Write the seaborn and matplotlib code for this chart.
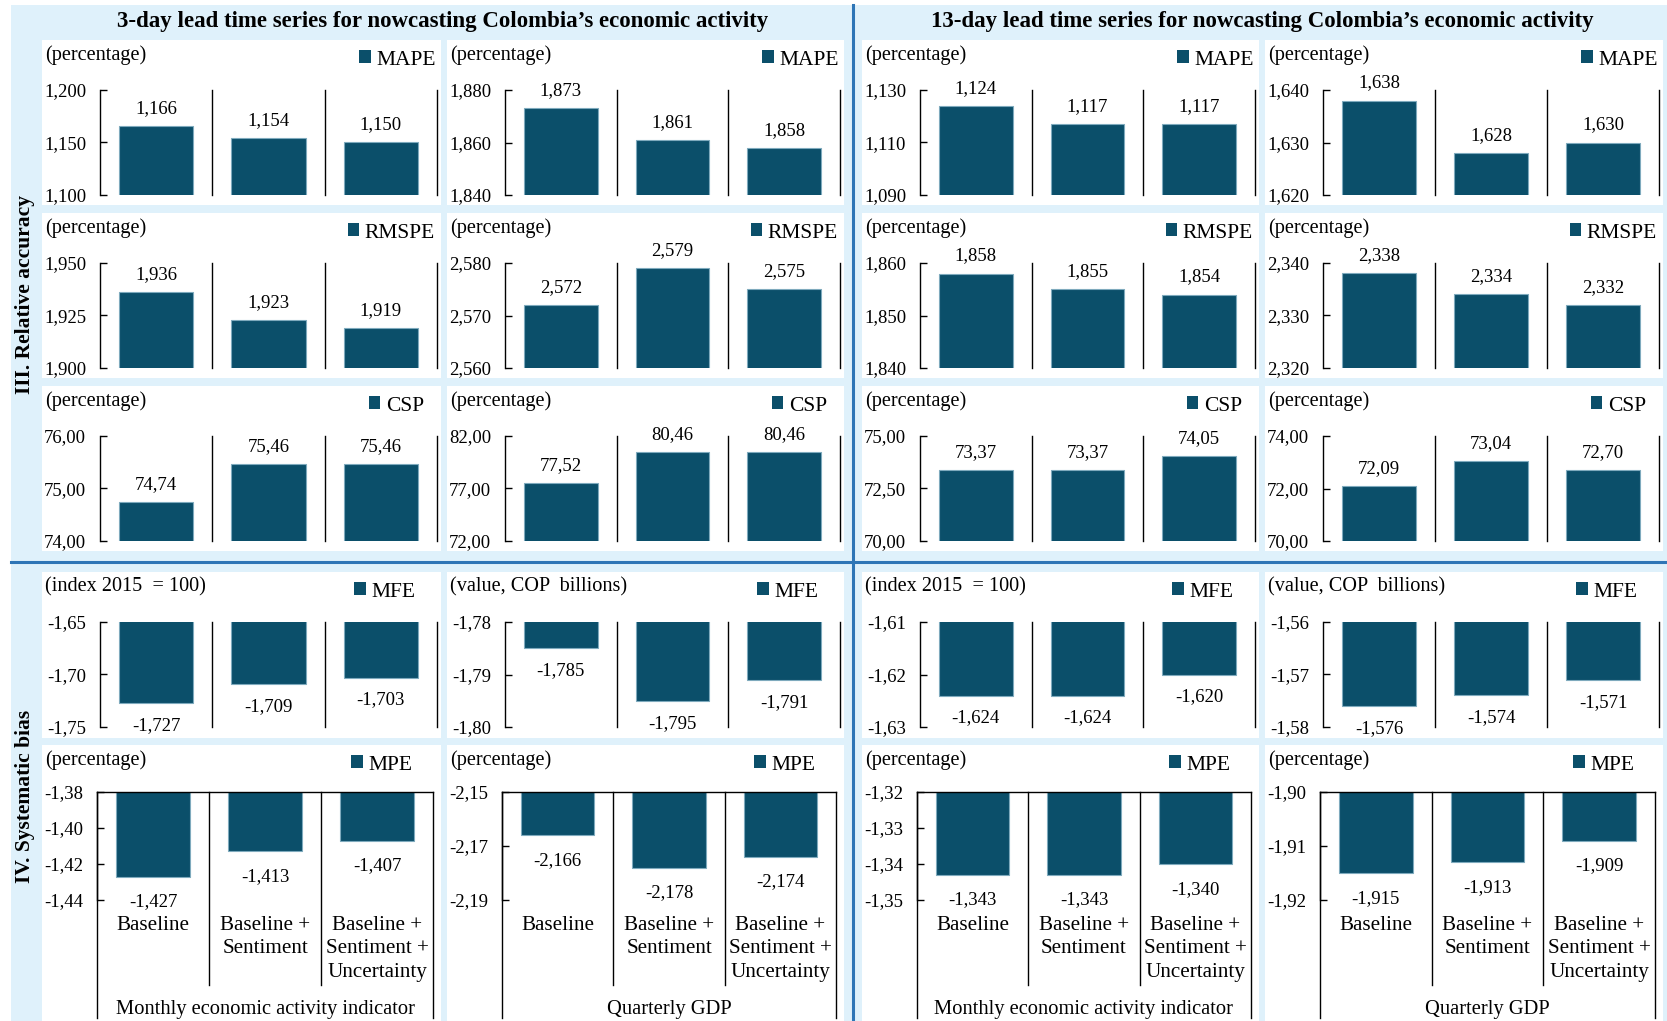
import matplotlib
matplotlib.use("Agg")
import matplotlib.pyplot as plt
import matplotlib.transforms as mtransforms
from matplotlib.patches import Rectangle, Patch
from matplotlib.lines import Line2D
from matplotlib.ticker import FuncFormatter
import seaborn as sns

plt.rcParams["font.family"] = ["Liberation Serif", "DejaVu Serif"]

# ---------------------------------------------------------------- data
MODELS = ["Baseline", "Baseline +\nSentiment", "Baseline +\nSentiment +\nUncertainty"]
TARGETS = ["Monthly economic activity indicator", "Quarterly GDP"]
LEAD_TITLES = ["3-day lead time series for nowcasting Colombia\u2019s economic activity",
               "13-day lead time series for nowcasting Colombia\u2019s economic activity"]
SECTIONS = ["III. Relative accuracy", "IV. Systematic bias"]
METRICS = ["MAPE", "RMSPE", "CSP", "MFE", "MPE"]

# column order: 3-day monthly, 3-day quarterly, 13-day monthly, 13-day quarterly
mape = [[1.166, 1.154, 1.150], [1.873, 1.861, 1.858],
        [1.124, 1.117, 1.117], [1.638, 1.628, 1.630]]
rmspe = [[1.936, 1.923, 1.919], [2.572, 2.579, 2.575],
         [1.858, 1.855, 1.854], [2.338, 2.334, 2.332]]
csp = [[74.74, 75.46, 75.46], [77.52, 80.46, 80.46],
       [73.37, 73.37, 74.05], [72.09, 73.04, 72.70]]
mfe = [[-1.727, -1.709, -1.703], [-1.785, -1.795, -1.791],
       [-1.624, -1.624, -1.620], [-1.576, -1.574, -1.571]]
mpe = [[-1.427, -1.413, -1.407], [-2.166, -2.178, -2.174],
       [-1.343, -1.343, -1.340], [-1.915, -1.913, -1.909]]
SERIES = [mape, rmspe, csp, mfe, mpe]

UNITS = [["(percentage)"] * 4,
         ["(percentage)"] * 4,
         ["(percentage)"] * 4,
         ["(index 2015  = 100)", "(value, COP  billions)",
          "(index 2015  = 100)", "(value, COP  billions)"],
         ["(percentage)"] * 4]

YTICKS = [
    [[1.100, 1.150, 1.200], [1.840, 1.860, 1.880], [1.090, 1.110, 1.130], [1.620, 1.630, 1.640]],
    [[1.900, 1.925, 1.950], [2.560, 2.570, 2.580], [1.840, 1.850, 1.860], [2.320, 2.330, 2.340]],
    [[74.0, 75.0, 76.0], [72.0, 77.0, 82.0], [70.0, 72.5, 75.0], [70.0, 72.0, 74.0]],
    [[-1.75, -1.70, -1.65], [-1.80, -1.79, -1.78], [-1.63, -1.62, -1.61], [-1.58, -1.57, -1.56]],
    [[-1.44, -1.42, -1.40, -1.38], [-2.19, -2.17, -2.15],
     [-1.35, -1.34, -1.33, -1.32], [-1.92, -1.91, -1.90]],
]
TICK_DEC = [3, 3, 2, 2, 2]
LABEL_DEC = [3, 3, 2, 3, 3]

# ---------------------------------------------------------------- style
BAR = "#0b4f6a"
EDGE = "#7eaabd"
LIGHT = "#dff1fb"
BLUE = "#2e75b6"

W, H = 1667, 1021
COL_X = [(42, 441), (447, 844), (862, 1259), (1265, 1663)]
ROW_Y = [(40, 205), (213, 378), (386, 551), (572, 738), (745, 1021)]
LEG_DX = [-5, -6, -17, -26, -29]
LABEL_PAD = [6.5, 6.5, 6.5, 10, 12]


def fx(px):
    return px / W


def fy(py):
    return 1 - py / H


def comma(v, d):
    return f"{v:.{d}f}".replace(".", ",")


fig = plt.figure(figsize=(W / 100, H / 100), dpi=100)
fig.patch.set_facecolor("white")

# background band, white panels and blue dividers
fig.add_artist(Rectangle((fx(11), 0), 1 - fx(11), fy(5), transform=fig.transFigure,
                         facecolor=LIGHT, edgecolor="none", zorder=-3))
for (y0, y1) in ROW_Y:
    for (x0, x1) in COL_X:
        fig.add_artist(Rectangle((fx(x0), fy(y1)), (x1 - x0) / W, (y1 - y0) / H,
                                 transform=fig.transFigure, facecolor="white",
                                 edgecolor="none", zorder=-2))
fig.add_artist(Line2D([fx(853), fx(853)], [0, fy(5)], transform=fig.transFigure,
                      color=BLUE, lw=2.2, zorder=-1))
fig.add_artist(Line2D([fx(11), 1], [fy(562), fy(562)], transform=fig.transFigure,
                      color=BLUE, lw=2.2, zorder=-1))

# column-group titles and section labels
fig.text(fx(443), fy(22), LEAD_TITLES[0], ha="center", va="center",
         fontsize=16.5, fontweight="bold")
fig.text(fx(1262), fy(22), LEAD_TITLES[1], ha="center", va="center",
         fontsize=16.5, fontweight="bold")
fig.text(fx(25), fy(294), SECTIONS[0], rotation=90, ha="center", va="center",
         fontsize=15.5, fontweight="bold")
fig.text(fx(25), fy(796), SECTIONS[1], rotation=90, ha="center", va="center",
         fontsize=15.5, fontweight="bold")

for r, metric in enumerate(METRICS):
    y0, y1 = ROW_Y[r]
    for c in range(4):
        x0, x1 = COL_X[c]
        if r < 4:
            left, right, top, bottom = x0 + 58, x1 - 4, y0 + 50, y0 + 155
        else:
            left, right, top, bottom = x0 + 55, x1 - 8, 792, 900
        ax = fig.add_axes([fx(left), fy(bottom), (right - left) / W, (bottom - top) / H])
        ax.set_facecolor("none")

        vals = SERIES[r][c]
        sns.barplot(x=MODELS, y=vals, ax=ax, color=BAR, saturation=1, width=0.66,
                    edgecolor=EDGE, linewidth=0.8, zorder=2)
        ax.set_xlim(-0.5, 2.5)
        ticks = YTICKS[r][c]
        ax.set_ylim(min(ticks), max(ticks))
        ax.set_yticks(ticks)
        ax.yaxis.set_major_formatter(FuncFormatter(lambda v, p, d=TICK_DEC[r]: comma(v, d)))
        ax.set_xlabel("")
        ax.set_ylabel("")
        ax.tick_params(axis="x", bottom=False, labelbottom=False)
        ax.tick_params(axis="y", left=True, direction="in", length=5, width=1.0,
                       color="black", pad=10, labelsize=13.5, labelcolor="black")
        for s in ["top", "right", "bottom"]:
            ax.spines[s].set_visible(False)
        ax.spines["left"].set_color("black")
        ax.spines["left"].set_linewidth(1.0)

        ax.bar_label(ax.containers[0], labels=[comma(v, LABEL_DEC[r]) for v in vals],
                     padding=LABEL_PAD[r], fontsize=13.5)

        trans = mtransforms.blended_transform_factory(ax.transData, ax.transAxes)
        if r < 4:
            for xv in (0.5, 1.5, 2.5):
                ax.axvline(xv, color="black", lw=1.0, clip_on=False)
        else:
            ax.spines["top"].set_visible(True)
            ax.spines["top"].set_color("black")
            ax.spines["top"].set_linewidth(1.0)

            def yfrac(py):
                return (bottom - py) / (bottom - top)

            for xv, ylow in [(-0.5, 1018), (0.5, 985), (1.5, 985), (2.5, 1018)]:
                ax.add_line(Line2D([xv, xv], [1, yfrac(ylow)], transform=trans,
                                   color="black", lw=1.0, clip_on=False))
            for i, name in enumerate(MODELS):
                for k, line in enumerate(name.split("\n")):
                    ax.text(i, yfrac(925 + 23.5 * k), line, transform=trans,
                            ha="center", va="center", fontsize=15.2)
            ax.text(1, yfrac(1009), TARGETS[c % 2], transform=trans,
                    ha="center", va="center", fontsize=14.8)

        # unit note and legend
        fig.text(fx(x0 + 3), fy(y0 + 15), UNITS[r][c], ha="left", va="center", fontsize=14.6)
        ax.legend(handles=[Patch(facecolor=BAR, edgecolor="none")], labels=[metric],
                  loc="center right", bbox_to_anchor=(fx(x1 + LEG_DX[r]), fy(y0 + 20)),
                  bbox_transform=fig.transFigure, frameon=False, fontsize=15.5,
                  handlelength=0.55, handleheight=0.55, handletextpad=0.25,
                  borderpad=0, borderaxespad=0)

fig.savefig("out.png", dpi=100)
